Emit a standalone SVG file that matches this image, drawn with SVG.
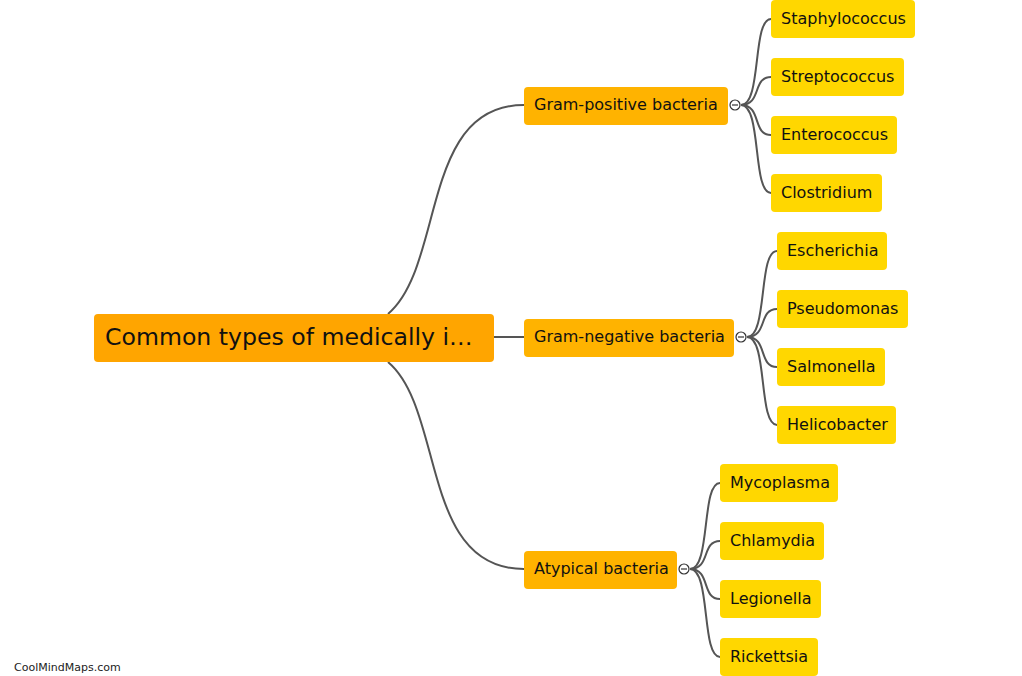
<svg xmlns="http://www.w3.org/2000/svg" width="1022" height="676" viewBox="0 0 1022 676">
<style>
text{font-family:"DejaVu Sans",Verdana,sans-serif;fill:#111}
.root rect{fill:#FFA500}
.root text{font-size:23.6px}
.l1 rect{fill:#FFB300}
.l1 text{font-size:16px}
.l2 rect{fill:#FFD700}
.l2 text{font-size:16px}
.conn path{fill:none;stroke:#555;stroke-width:2}
.tog{fill:#fff;stroke:#333;stroke-width:1.2}
.tm{stroke:#333;stroke-width:1.2}
.wm{font-size:11px;fill:#222}
</style>
<rect width="1022" height="676" fill="#fff"/>
<g class="conn">
<path d="M388 314 C445 266 420 105 524 105"/>
<path d="M494 337 L524 337"/>
<path d="M388 362 C445 410 420 569 524 569"/>
<path d="M741 105 C762 105 752 19 771 19"/>
<path d="M741 105 C762 105 752 77 771 77"/>
<path d="M741 105 C762 105 752 135 771 135"/>
<path d="M741 105 C762 105 752 193 771 193"/>
<path d="M747 337 C768 337 758 251 777 251"/>
<path d="M747 337 C768 337 758 309 777 309"/>
<path d="M747 337 C768 337 758 367 777 367"/>
<path d="M747 337 C768 337 758 425 777 425"/>
<path d="M690 569 C711 569 701 483 720 483"/>
<path d="M690 569 C711 569 701 541 720 541"/>
<path d="M690 569 C711 569 701 599 720 599"/>
<path d="M690 569 C711 569 701 657 720 657"/>
</g>
<g id="root" class="root"><rect x="94" y="314" width="400" height="48" rx="4"/><text x="105" y="345">Common types of medically i…</text></g>
<g id="gram-positive" class="l1"><rect x="524" y="87" width="204" height="38" rx="4"/><text x="534" y="110">Gram-positive bacteria</text></g>
<g id="gram-negative" class="l1"><rect x="524" y="319" width="210" height="38" rx="4"/><text x="534" y="342">Gram-negative bacteria</text></g>
<g id="atypical" class="l1"><rect x="524" y="551" width="153" height="38" rx="4"/><text x="534" y="574">Atypical bacteria</text></g>
<g id="toggles">
<circle class="tog" cx="735" cy="105" r="5"/><line class="tm" x1="732" y1="105" x2="738" y2="105"/>
<circle class="tog" cx="741" cy="337" r="5"/><line class="tm" x1="738" y1="337" x2="744" y2="337"/>
<circle class="tog" cx="684" cy="569" r="5"/><line class="tm" x1="681" y1="569" x2="687" y2="569"/>
</g>
<g id="staphylococcus" class="l2"><rect x="771" y="0" width="144" height="38" rx="4"/><text x="781" y="24">Staphylococcus</text></g>
<g id="streptococcus" class="l2"><rect x="771" y="58" width="133" height="38" rx="4"/><text x="781" y="82">Streptococcus</text></g>
<g id="enterococcus" class="l2"><rect x="771" y="116" width="126" height="38" rx="4"/><text x="781" y="140">Enterococcus</text></g>
<g id="clostridium" class="l2"><rect x="771" y="174" width="111" height="38" rx="4"/><text x="781" y="198">Clostridium</text></g>
<g id="escherichia" class="l2"><rect x="777" y="232" width="110" height="38" rx="4"/><text x="787" y="256">Escherichia</text></g>
<g id="pseudomonas" class="l2"><rect x="777" y="290" width="131" height="38" rx="4"/><text x="787" y="314">Pseudomonas</text></g>
<g id="salmonella" class="l2"><rect x="777" y="348" width="108" height="38" rx="4"/><text x="787" y="372">Salmonella</text></g>
<g id="helicobacter" class="l2"><rect x="777" y="406" width="119" height="38" rx="4"/><text x="787" y="430">Helicobacter</text></g>
<g id="mycoplasma" class="l2"><rect x="720" y="464" width="118" height="38" rx="4"/><text x="730" y="488">Mycoplasma</text></g>
<g id="chlamydia" class="l2"><rect x="720" y="522" width="104" height="38" rx="4"/><text x="730" y="546">Chlamydia</text></g>
<g id="legionella" class="l2"><rect x="720" y="580" width="101" height="38" rx="4"/><text x="730" y="604">Legionella</text></g>
<g id="rickettsia" class="l2"><rect x="720" y="638" width="98" height="38" rx="4"/><text x="730" y="662">Rickettsia</text></g>
<text class="wm" x="14" y="671">CoolMindMaps.com</text>
</svg>
